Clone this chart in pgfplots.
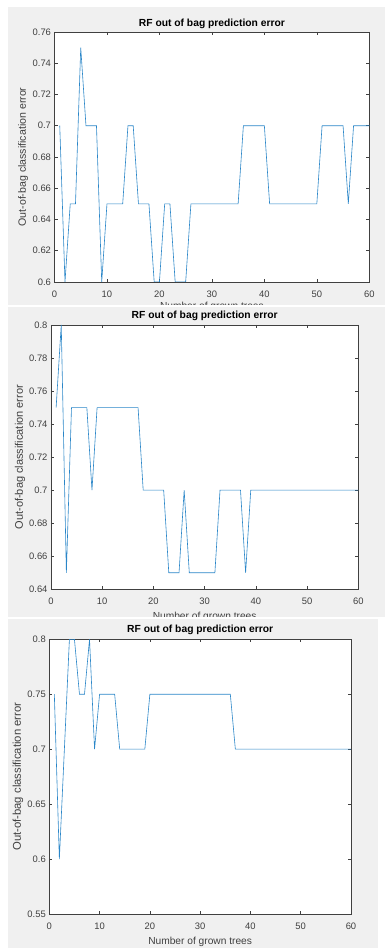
\documentclass[border=0pt]{standalone}
\usepackage{fontspec}
\setmainfont{Liberation Sans}
\usepackage{pgfplots}
\usepackage{pgfplotstable}
\pgfplotsset{compat=1.18}
\definecolor{figbg}{HTML}{F0F0F0}
\definecolor{axgray}{HTML}{404040}
\definecolor{mblue}{HTML}{2A86C8}

\pgfplotstableread{
n err
1 0.70
2 0.60
3 0.65
4 0.65
5 0.75
6 0.70
7 0.70
8 0.70
9 0.60
10 0.65
11 0.65
12 0.65
13 0.65
14 0.70
15 0.70
16 0.65
17 0.65
18 0.65
19 0.60
20 0.60
21 0.65
22 0.65
23 0.60
24 0.60
25 0.60
26 0.65
27 0.65
28 0.65
29 0.65
30 0.65
31 0.65
32 0.65
33 0.65
34 0.65
35 0.65
36 0.70
37 0.70
38 0.70
39 0.70
40 0.70
41 0.65
42 0.65
43 0.65
44 0.65
45 0.65
46 0.65
47 0.65
48 0.65
49 0.65
50 0.65
51 0.70
52 0.70
53 0.70
54 0.70
55 0.70
56 0.65
57 0.70
58 0.70
59 0.70
60 0.70
}\tabA

\pgfplotstableread{
n err
1 0.75
2 0.80
3 0.65
4 0.75
5 0.75
6 0.75
7 0.75
8 0.70
9 0.75
10 0.75
11 0.75
12 0.75
13 0.75
14 0.75
15 0.75
16 0.75
17 0.75
18 0.70
19 0.70
20 0.70
21 0.70
22 0.70
23 0.65
24 0.65
25 0.65
26 0.70
27 0.65
28 0.65
29 0.65
30 0.65
31 0.65
32 0.65
33 0.70
34 0.70
35 0.70
36 0.70
37 0.70
38 0.65
39 0.70
40 0.70
41 0.70
42 0.70
43 0.70
44 0.70
45 0.70
46 0.70
47 0.70
48 0.70
49 0.70
50 0.70
51 0.70
52 0.70
53 0.70
54 0.70
55 0.70
56 0.70
57 0.70
58 0.70
59 0.70
60 0.70
}\tabB

\pgfplotstableread{
n err
1 0.75
2 0.60
3 0.70
4 0.80
5 0.80
6 0.75
7 0.75
8 0.80
9 0.70
10 0.75
11 0.75
12 0.75
13 0.75
14 0.70
15 0.70
16 0.70
17 0.70
18 0.70
19 0.70
20 0.75
21 0.75
22 0.75
23 0.75
24 0.75
25 0.75
26 0.75
27 0.75
28 0.75
29 0.75
30 0.75
31 0.75
32 0.75
33 0.75
34 0.75
35 0.75
36 0.75
37 0.70
38 0.70
39 0.70
40 0.70
41 0.70
42 0.70
43 0.70
44 0.70
45 0.70
46 0.70
47 0.70
48 0.70
49 0.70
50 0.70
51 0.70
52 0.70
53 0.70
54 0.70
55 0.70
56 0.70
57 0.70
58 0.70
59 0.70
60 0.70
}\tabC

\pgfplotsset{
  rfstyle/.style={
    scale only axis, anchor=south west,
    axis background/.style={fill=white},
    axis line style={axgray, line width=0.5pt},
    tick style={axgray, line width=0.5pt},
    tick align=inside, major tick length=3pt,
    xmin=0, xmax=60, xtick={0,10,20,30,40,50,60},
    tick label style={font=\fontsize{9.4}{10}\selectfont, text=axgray},
    /pgf/number format/assume math mode=true,
    xticklabel style={yshift=-5pt},
    every axis title/.style={at={(0.5,1)}, anchor=center,
      font=\fontsize{10.3}{12}\selectfont\bfseries},
    label style={text=axgray},
    xlabel style={font=\fontsize{10.2}{12}\selectfont},
    title={RF out of bag prediction error},
    xlabel={Number of grown trees},
    ylabel={Out-of-bag classification error},
  }
}

\begin{document}
\begin{tikzpicture}[x=1pt,y=1pt]
\useasboundingbox (0,0) rectangle (385,949);
\fill[white] (0,0) rectangle (385,949);

% Panel 1
\begin{scope}
\clip (8,644) rectangle (385,942);
\fill[figbg] (8,644) rectangle (385,942);
\begin{axis}[rfstyle, at={(54.5pt,667pt)}, width=314.8pt, height=250pt,
  ymin=0.6, ymax=0.76, ytick={0.6,0.62,0.64,0.66,0.68,0.7,0.72,0.74,0.76},
  title style={at={(0.5,1.032)}},
  xlabel style={at={(axis description cs:0.5,-0.098)}, anchor=center},
  ylabel style={at={(axis description cs:-0.100,0.5)}, anchor=center,
    font=\fontsize{10.6}{12}\selectfont}]
\addplot[mblue, line width=0.6pt] table[x=n, y=err] {\tabA};
\end{axis}
\end{scope}

% Panel 2
\begin{scope}
\clip (8,332) rectangle (385,642);
\fill[figbg] (8,332) rectangle (385,642);
\begin{axis}[rfstyle, at={(51pt,359.7pt)}, width=307.3pt, height=264.3pt,
  ymin=0.64, ymax=0.8, ytick={0.64,0.66,0.68,0.7,0.72,0.74,0.76,0.78,0.8},
  title style={at={(0.5,1.034)}},
  xlabel style={at={(axis description cs:0.5,-0.103)}, anchor=center},
  ylabel style={at={(axis description cs:-0.101,0.5)}, anchor=center,
    font=\fontsize{11}{12}\selectfont}]
\addplot[mblue, line width=0.6pt] table[x=n, y=err] {\tabB};
\end{axis}
\end{scope}

% Panel 3
\begin{scope}
\clip (8,1) rectangle (378,330);
\fill[figbg] (8,1) rectangle (378,330);
\begin{axis}[rfstyle, at={(49.3pt,35pt)}, width=301.7pt, height=274.7pt,
  ymin=0.55, ymax=0.8, ytick={0.55,0.6,0.65,0.7,0.75,0.8},
  title style={at={(0.5,1.034)}},
  xlabel style={at={(axis description cs:0.5,-0.102)}, anchor=center},
  ylabel style={at={(axis description cs:-0.104,0.5)}, anchor=center,
    font=\fontsize{11.3}{12}\selectfont}]
\addplot[mblue, line width=0.6pt] table[x=n, y=err] {\tabC};
\end{axis}
\end{scope}
\end{tikzpicture}
\end{document}
